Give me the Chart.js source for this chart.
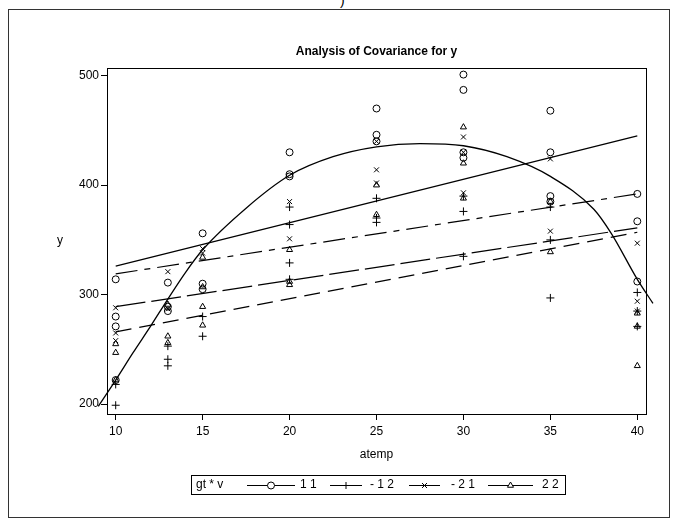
<!DOCTYPE html>
<html>
<head>
<meta charset="utf-8">
<script src="https://cdn.jsdelivr.net/npm/chart.js@4/dist/chart.umd.min.js"></script>
<style>
  body { margin: 0; background: #fff; }
  #wrap { position: relative; width: 677px; height: 529px; }
  #frame { position: absolute; left: 8px; top: 9px; width: 660px; height: 507px; border: 1px solid #333; }
  #paren { position: absolute; left: 340px; top: -8px; font: 14px "Liberation Sans", Arial, sans-serif; }
  canvas { position: absolute; left: 0; top: 0; }
</style>
</head>
<body>
<div id="wrap">
  <div id="frame"></div>
  <div id="paren">)</div>
  <canvas id="chart" width="677" height="529"></canvas>
</div>
<script>
// temperatures where the groups were measured
const temps = [10, 13, 15, 20, 25, 30, 35, 40];

// observed y for each gt*v group, one sub-array per temperature
const g11 = [[314, 280, 271, 222], [311, 289, 285], [356, 310, 305], [430, 410, 408], [470, 446, 440], [501, 487, 430, 425], [468, 430, 390, 385], [392, 367, 312]];
const g12 = [[218, 199], [253, 241, 235], [280, 262], [380, 364, 329, 314], [388, 370, 366], [390, 376, 335], [380, 350, 297], [302, 285, 271]];
const g21 = [[288, 265, 258], [321, 287], [342, 338], [385, 351], [440, 414, 402], [444, 430, 393], [424, 358], [347, 294, 285]];
const g22 = [[255, 247, 222], [291, 262, 256], [334, 307, 289, 272], [341, 312, 309], [400, 373], [453, 420, 388], [385, 339], [283, 271, 235]];

// fitted lines per group (y at atemp 10 and 40)
const fitX = [10, 40];
const fit11 = [326, 445];
const fit12 = [266, 357];
const fit21 = [319, 392];
const fit22 = [289, 361];

// overall curve
const curveX = [9.0, 10, 11, 12, 13, 14, 15, 17.5, 20, 22.5, 25, 27.5, 30, 32.5, 35, 37.5, 38.5, 40, 40.9];
const curveY = [198, 222, 247, 271, 296, 320, 341, 379, 409, 426, 435, 438, 436, 426, 408, 378, 356, 314, 292];

const xTicks = [10, 15, 20, 25, 30, 35, 40];
const yTicks = [200, 300, 400, 500];

const FONT = '"Liberation Sans", Arial, Helvetica, sans-serif';
Chart.defaults.font.family = FONT;
Chart.defaults.font.size = 12;
Chart.defaults.color = '#000';

function toPoints(groups) {
  const pts = [];
  groups.forEach((vals, i) => vals.forEach(v => pts.push({ x: temps[i], y: v })));
  return pts;
}
function linePts(xs, ys) {
  return xs.map((x, i) => ({ x: x, y: ys[i] }));
}

function scatterSet(groups, style, r) {
  return {
    type: 'scatter',
    data: toPoints(groups),
    pointStyle: style,
    pointRadius: r,
    pointBorderColor: '#000',
    pointBackgroundColor: 'rgba(0,0,0,0)',
    pointBorderWidth: 1,
    showLine: false
  };
}
function fitSet(ys, dash) {
  return {
    type: 'line',
    data: linePts(fitX, ys),
    borderColor: '#000',
    borderWidth: 1.2,
    borderDash: dash,
    pointRadius: 0,
    fill: false
  };
}

const legendItems = [
  { label: '1 1', style: 'circle', x1: 247, x2: 295, tx: 300 },
  { label: '- 1 2', style: 'cross', x1: 330, x2: 362, tx: 370 },
  { label: '- 2 1', style: 'crossRot', x1: 409, x2: 440, tx: 451 },
  { label: '2 2', style: 'triangle', x1: 488, x2: 533, tx: 542 }
];

const extras = {
  id: 'extras',
  afterDraw(c) {
    const ctx = c.ctx;
    const a = c.chartArea;
    ctx.save();
    ctx.strokeStyle = '#000';
    ctx.lineWidth = 1;
    ctx.strokeRect(Math.round(a.left) + 0.5, Math.round(a.top) + 0.5, Math.round(a.right - a.left), Math.round(a.bottom - a.top));

    ctx.fillStyle = '#000';
    ctx.textAlign = 'center';
    ctx.textBaseline = 'middle';
    ctx.font = 'bold 12px ' + FONT;
    ctx.fillText('Analysis of Covariance for y', (a.left + a.right) / 2, 52);
    ctx.font = '12px ' + FONT;
    ctx.fillText('y', 60, 241);

    // legend
    ctx.strokeRect(191.5, 475.5, 374, 19);
    ctx.textAlign = 'left';
    ctx.fillText('gt * v', 196, 485);
    legendItems.forEach(it => {
      ctx.beginPath();
      ctx.moveTo(it.x1, 485.5);
      ctx.lineTo(it.x2, 485.5);
      ctx.stroke();
      ctx.fillStyle = '#fff';
      Chart.helpers.drawPoint(ctx, { pointStyle: it.style, radius: 3.5, borderWidth: 1 }, (it.x1 + it.x2) / 2, 485.5);
      ctx.fillStyle = '#000';
      ctx.fillText(it.label, it.tx, 485);
    });
    ctx.restore();
  }
};

new Chart(document.getElementById('chart'), {
  data: {
    datasets: [
      scatterSet(g11, 'circle', 3.5),
      scatterSet(g12, 'cross', 4),
      scatterSet(g21, 'crossRot', 3.5),
      scatterSet(g22, 'triangle', 3.5),
      fitSet(fit11, []),
      fitSet(fit12, [16, 8]),
      fitSet(fit21, [22, 7, 6, 7]),
      fitSet(fit22, [30, 6]),
      {
        type: 'line',
        data: linePts(curveX, curveY),
        borderColor: '#000',
        borderWidth: 1.3,
        pointRadius: 0,
        cubicInterpolationMode: 'monotone',
        clip: false,
        fill: false
      }
    ]
  },
  options: {
    responsive: false,
    animation: false,
    layout: { padding: { left: 50, top: 68, right: 31, bottom: 63 } },
    plugins: { legend: { display: false }, title: { display: false }, tooltip: { enabled: false } },
    scales: {
      x: {
        type: 'linear',
        min: 9.5,
        max: 40.5,
        afterFit: s => { s.height = 52; },
        afterBuildTicks: s => { s.ticks = xTicks.map(v => ({ value: v })); },
        grid: { drawOnChartArea: false, tickLength: 6, color: '#000' },
        border: { color: '#000', width: 1 },
        ticks: { padding: 4 },
        title: { display: true, text: 'atemp', padding: { top: 4, bottom: 4 } }
      },
      y: {
        type: 'linear',
        min: 191,
        max: 507,
        afterFit: s => { s.width = 57; },
        afterBuildTicks: s => { s.ticks = yTicks.map(v => ({ value: v })); },
        grid: { drawOnChartArea: false, tickLength: 6, color: '#000' },
        border: { color: '#000', width: 1 },
        ticks: { padding: 2 }
      }
    }
  },
  plugins: [extras]
});
</script>
</body>
</html>
